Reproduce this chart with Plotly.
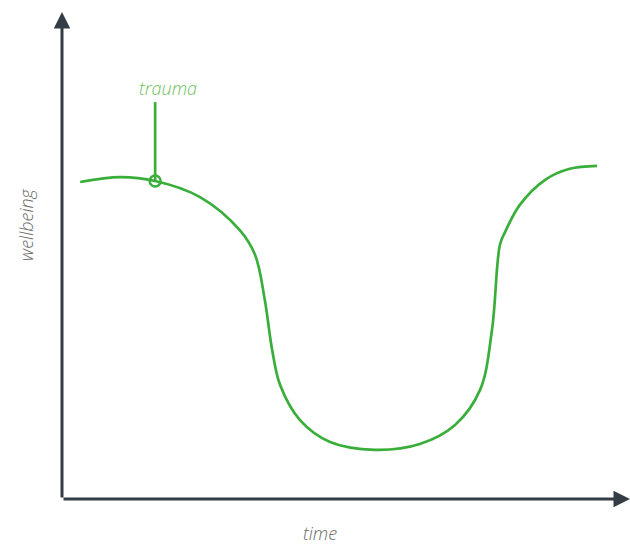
import plotly.graph_objects as go

# wellbeing over time (data units: 0-100 on both axes)
time_vals = [3.2, 10.2, 16.4, 24.3, 31.3, 34.0, 35.7, 37.0, 38.4, 41.9, 47.2, 55.1,
             63.0, 69.2, 73.6, 75.7, 77.1, 78.0, 80.6, 85.0, 89.4, 94.2]
wellbeing_vals = [65.1, 66.1, 65.3, 62.0, 55.2, 50.1, 40.9, 30.6, 23.4, 16.2, 11.7, 10.1,
                  11.3, 15.2, 22.4, 34.7, 52.2, 54.8, 60.4, 65.5, 67.8, 68.4]
trauma_time = 16.4
trauma_wellbeing = 65.3
trauma_label_top = 81.5
trauma_text_y = 84.4
trauma_text_x = 18.7

GREEN = "#3aae3a"
LIGHT_GREEN = "#6cbf5a"
AXIS = "#343d46"
GREY = "#6b6b6b"

fig = go.Figure()
fig.add_trace(go.Scatter(x=time_vals, y=wellbeing_vals, mode="lines",
                         line=dict(color=GREEN, width=2.7, shape="spline", smoothing=1.0),
                         hoverinfo="skip"))
fig.add_trace(go.Scatter(x=[trauma_time, trauma_time], y=[trauma_wellbeing, trauma_label_top],
                         mode="lines", line=dict(color=GREEN, width=2.7), hoverinfo="skip"))
fig.add_trace(go.Scatter(x=[trauma_time], y=[trauma_wellbeing], mode="markers",
                         marker=dict(symbol="circle-open", size=11, color=GREEN,
                                     line=dict(width=2.4, color=GREEN)),
                         hoverinfo="skip"))

# axes with arrows
fig.add_annotation(x=100, y=0, ax=0, ay=0, xref="x", yref="y", axref="x", ayref="y",
                   showarrow=True, arrowhead=2, arrowsize=1.1, arrowwidth=3,
                   arrowcolor=AXIS, text="")
fig.add_annotation(x=0, y=100, ax=0, ay=0, xref="x", yref="y", axref="x", ayref="y",
                   showarrow=True, arrowhead=2, arrowsize=1.1, arrowwidth=3,
                   arrowcolor=AXIS, text="")

fig.add_annotation(x=trauma_text_x, y=trauma_text_y, xref="x", yref="y", text="<i>trauma</i>",
                   showarrow=False,
                   font=dict(family="Open Sans", size=18, color=LIGHT_GREEN, weight=300))
fig.add_annotation(x=0.454, y=-0.070, xref="paper", yref="paper", text="<i>time</i>",
                   xanchor="center", yanchor="middle", showarrow=False,
                   font=dict(family="Open Sans", size=18, color=GREY, weight=300))
fig.add_annotation(x=-0.063, y=0.563, xref="paper", yref="paper", text="<i>wellbeing</i>",
                   xanchor="center", yanchor="middle", textangle=-90, showarrow=False,
                   font=dict(family="Open Sans", size=18, color=GREY, weight=300))

fig.update_xaxes(range=[0, 100], visible=False)
fig.update_yaxes(range=[0, 100], visible=False)
fig.update_layout(width=630, height=546, showlegend=False,
                  margin=dict(l=62, r=0, t=12, b=47),
                  plot_bgcolor="white", paper_bgcolor="white")
fig.write_html("out.html", config={"displayModeBar": False},
               post_script="document.body.style.margin='0';document.body.style.overflow='hidden';")
